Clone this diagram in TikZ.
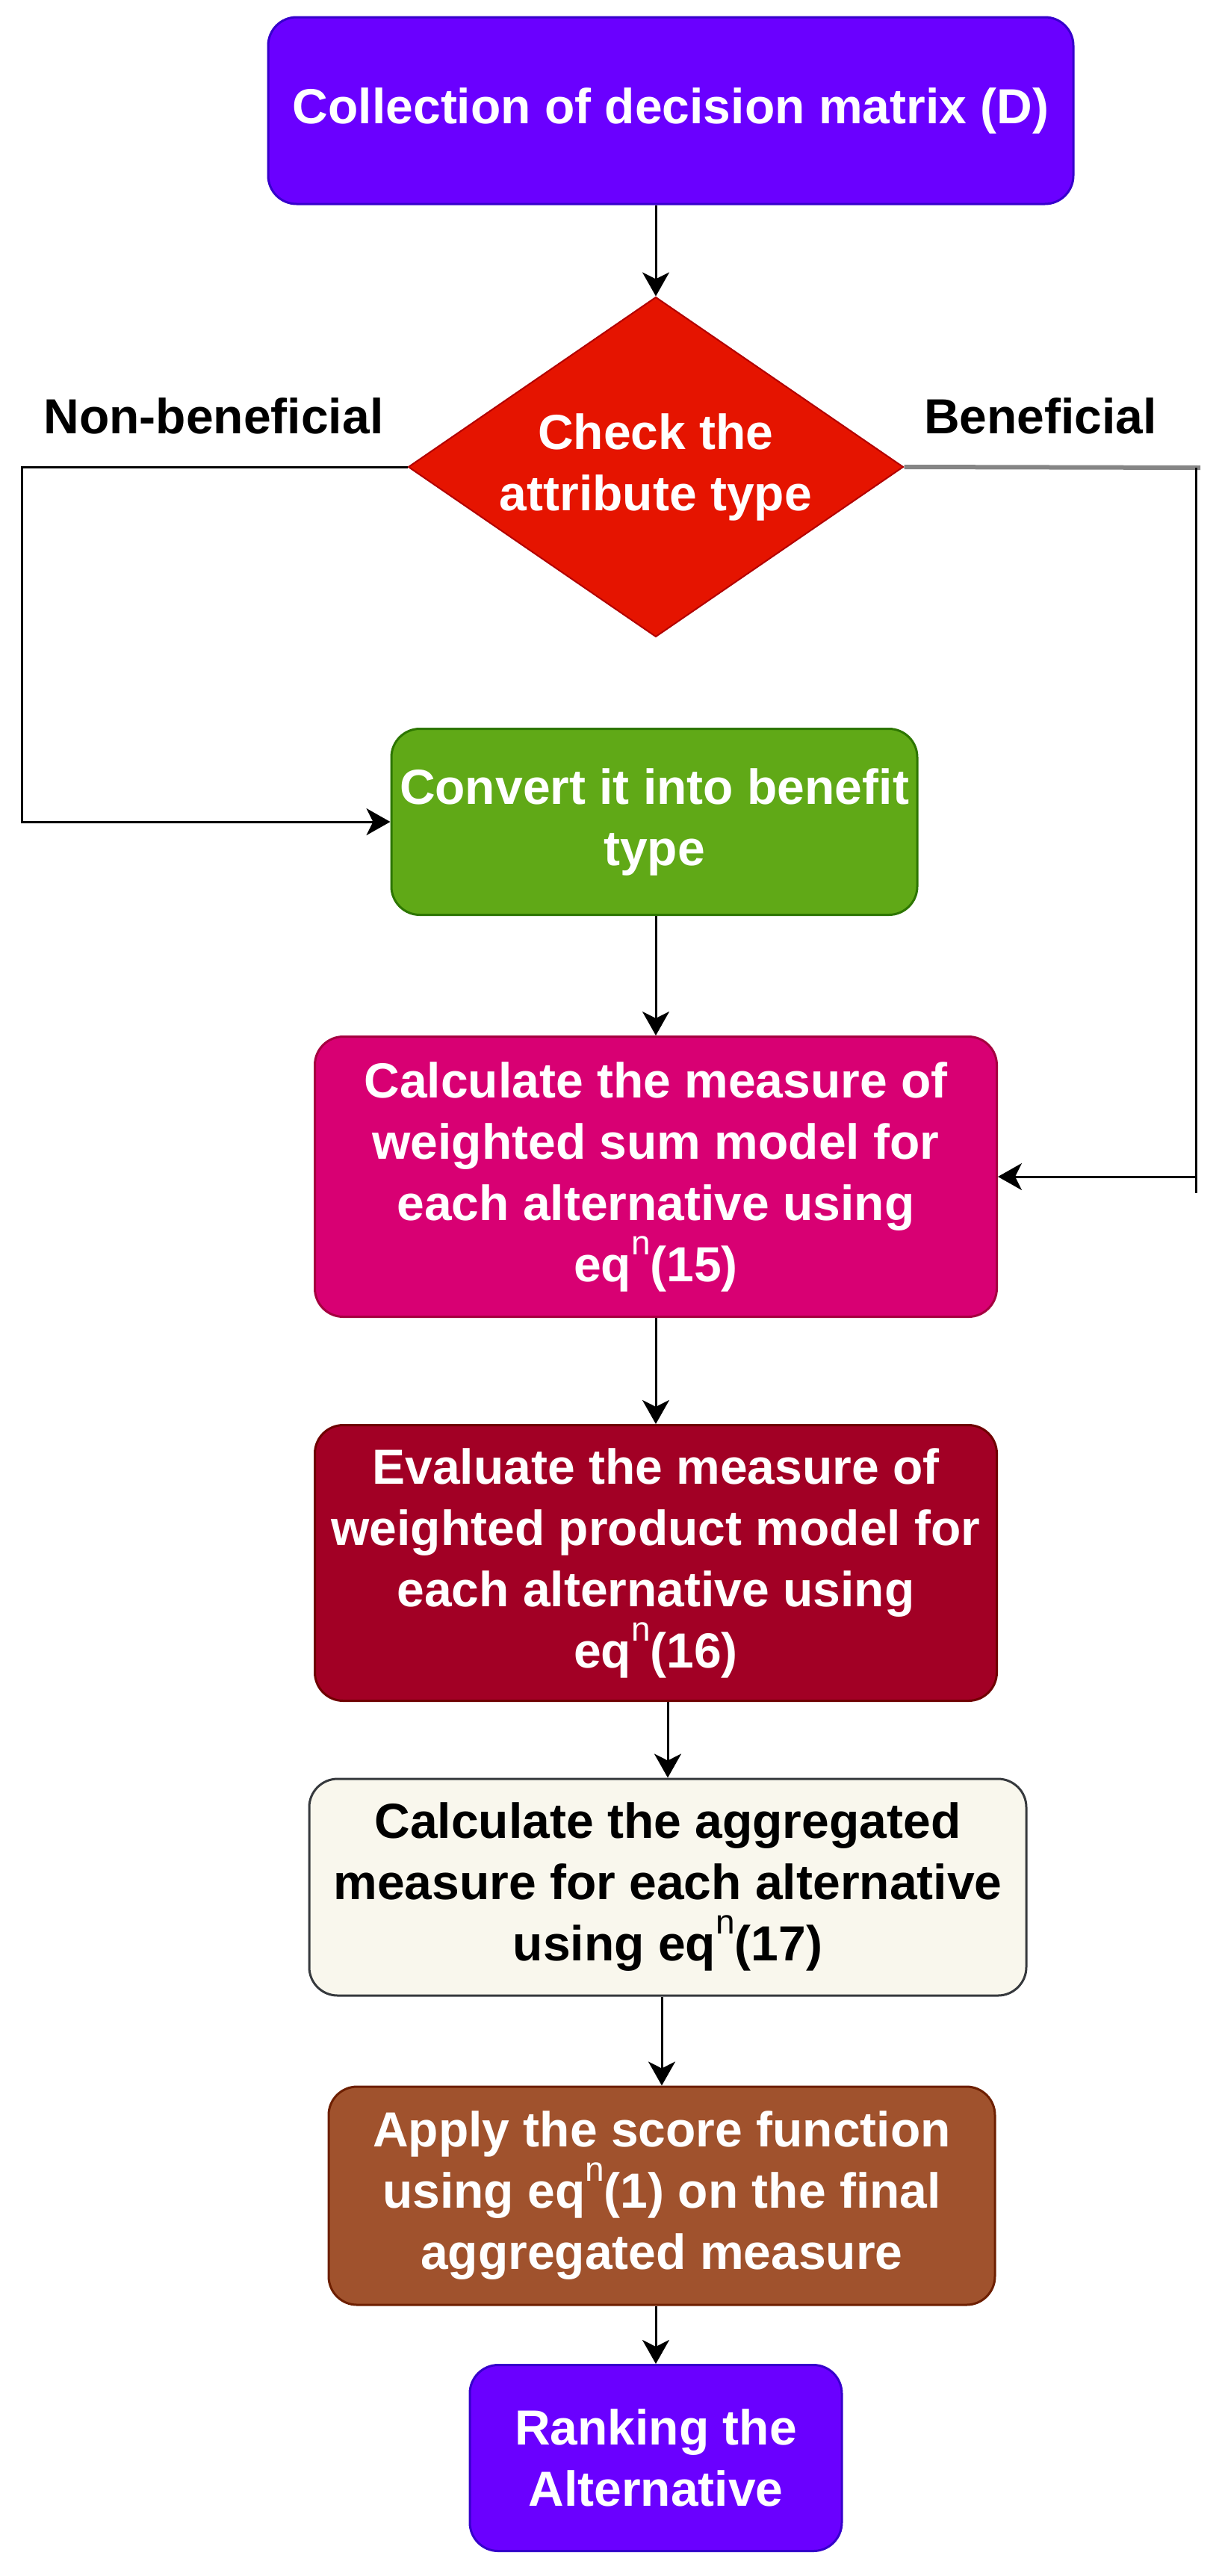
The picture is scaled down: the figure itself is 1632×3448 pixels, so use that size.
\documentclass[tikz,border=0pt]{standalone}
\usepackage{fontspec}
\setmainfont{Liberation Sans}
\usetikzlibrary{shapes.geometric,arrows.meta}
\definecolor{cviolet}{HTML}{6A00FF}
\definecolor{cvioletd}{HTML}{3700CC}
\definecolor{cred}{HTML}{E51400}
\definecolor{credd}{HTML}{B20000}
\definecolor{cgreen}{HTML}{60A917}
\definecolor{cgreend}{HTML}{2D7600}
\definecolor{cpink}{HTML}{D80073}
\definecolor{cpinkd}{HTML}{A50040}
\definecolor{cwine}{HTML}{A20025}
\definecolor{cwined}{HTML}{6F0000}
\definecolor{ccream}{HTML}{F9F7ED}
\definecolor{ccreamd}{HTML}{36393D}
\definecolor{cbrown}{HTML}{A0522D}
\definecolor{cbrownd}{HTML}{6D1F00}
\definecolor{cgrayline}{HTML}{858585}
\newcommand{\mybigfont}{\fontsize{66}{82}\selectfont\bfseries}
\newcommand{\myeqn}{eq\raisebox{36pt}{\fontsize{46}{46}\selectfont\mdseries n}}
\begin{document}
\begin{tikzpicture}[x=1pt,y=-1pt,
  box/.style={rectangle, rounded corners=38pt, line width=3pt, align=center,
    inner sep=0pt, font=\mybigfont, text=white},
  lbl/.style={font=\mybigfont, text=black, inner sep=0pt},
  arr/.style={-{Stealth[length=32pt,width=36pt,inset=9pt]}, line width=3pt, black},
  conn/.style={line width=3pt, black}]
\useasboundingbox (0,0) rectangle (1632,3448);

\node[box, fill=cviolet, draw=cvioletd, minimum width=1078pt, minimum height=250pt]
  (top) at (898,148) {Collection of decision matrix (D)};

\node[diamond, aspect=1.457, minimum width=663pt, minimum height=455pt, inner sep=0pt,
  fill=cred, draw=credd, line width=2pt, text=white, align=center, font=\mybigfont]
  (dia) at (878,625) {Check the\\attribute type};

\node[lbl] (nonben) at (286,557) {Non-beneficial};
\node[lbl] (ben) at (1393,557) {Beneficial};

\node[box, fill=cgreen, draw=cgreend, minimum width=704pt, minimum height=249pt]
  (green) at (876,1100) {Convert it into benefit\\type};

\node[box, fill=cpink, draw=cpinkd, minimum width=913pt, minimum height=375pt]
  (pink) at (878,1575) {Calculate the measure of\\weighted sum model for\\each alternative using\\\myeqn(15)};

\node[box, fill=cwine, draw=cwined, minimum width=913pt, minimum height=369pt]
  (wine) at (878,2092) {Evaluate the measure of\\weighted product model for\\each alternative using\\\myeqn(16)};

\node[box, fill=ccream, draw=ccreamd, text=black, minimum width=960pt, minimum height=290pt]
  (cream) at (894,2526) {Calculate the aggregated\\measure for each alternative\\using \myeqn(17)};

\node[box, fill=cbrown, draw=cbrownd, minimum width=892pt, minimum height=292pt]
  (brown) at (886,2939) {Apply the score function\\using \myeqn(1) on the final\\aggregated measure};

\node[box, fill=cviolet, draw=cvioletd, minimum width=498pt, minimum height=249pt]
  (rank) at (878,3290) {Ranking the\\Alternative};

% vertical flow
\draw[arr] (top.south -| dia.north) -- (dia.north);
\draw[arr] (green.south -| pink.north) -- (pink.north);
\draw[arr] (pink.south) -- (wine.north);
\draw[arr] (wine.south -| cream.north) -- (cream.north);
\draw[arr] (cream.south -| brown.north) -- (brown.north);
\draw[arr] (brown.south -| rank.north) -- (rank.north);

% non-beneficial branch
\coordinate (lc) at (29,625);
\draw[arr] (dia.west) -- (lc) |- (green.west);

% beneficial branch
\coordinate (rc) at (1601,626);
\coordinate (rcx) at (1607,626);
\coordinate (rb) at (1601,1597);
\draw[cgrayline, line width=6pt] (dia.east) -- (rcx);
\draw[conn] (rc) -- (rb);
\draw[arr] (rc |- pink.east) -- (pink.east);
\end{tikzpicture}
\end{document}
